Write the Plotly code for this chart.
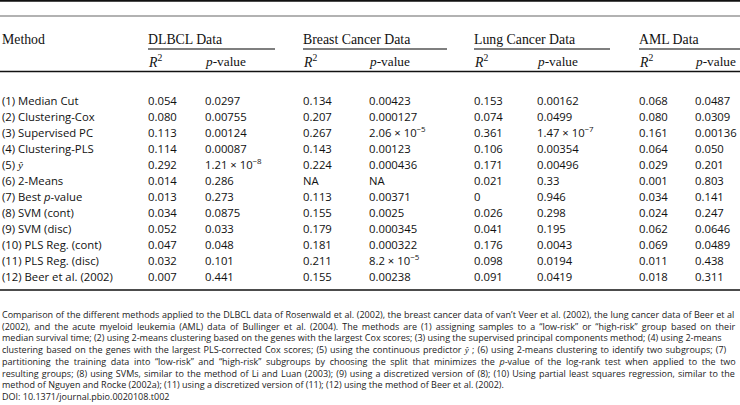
import plotly.graph_objects as go

# ---------------- data ----------------
methods = ["(1) Median Cut", "(2) Clustering-Cox", "(3) Supervised PC", "(4) Clustering-PLS",
           "(5) <span style='font-family:Liberation Serif'><i>ŷ</i></span>", "(6) 2-Means",
           "(7) Best <i>p</i>-value", "(8) SVM (cont)", "(9) SVM (disc)", "(10) PLS Reg. (cont)",
           "(11) PLS Reg. (disc)", "(12) Beer et al. (2002)"]
datasets = ["DLBCL Data", "Breast Cancer Data", "Lung Cancer Data", "AML Data"]
dlbcl_r2 = ["0.054", "0.080", "0.113", "0.114", "0.292", "0.014", "0.013", "0.034", "0.052", "0.047", "0.032", "0.007"]
dlbcl_p = ["0.0297", "0.00755", "0.00124", "0.00087", "1.21 × 10<sup>−8</sup>", "0.286", "0.273", "0.0875", "0.033", "0.048", "0.101", "0.441"]
breast_r2 = ["0.134", "0.207", "0.267", "0.143", "0.224", "NA", "0.113", "0.155", "0.179", "0.181", "0.211", "0.155"]
breast_p = ["0.00423", "0.000127", "2.06 × 10<sup>−5</sup>", "0.00123", "0.000436", "NA", "0.00371", "0.0025", "0.000345", "0.000322", "8.2 × 10<sup>−5</sup>", "0.00238"]
lung_r2 = ["0.153", "0.074", "0.361", "0.106", "0.171", "0.021", "0", "0.026", "0.041", "0.176", "0.098", "0.091"]
lung_p = ["0.00162", "0.0499", "1.47 × 10<sup>−7</sup>", "0.00354", "0.00496", "0.33", "0.946", "0.298", "0.195", "0.0043", "0.0194", "0.0419"]
aml_r2 = ["0.068", "0.080", "0.161", "0.064", "0.029", "0.001", "0.034", "0.024", "0.062", "0.069", "0.011", "0.018"]
aml_p = ["0.0487", "0.0309", "0.00136", "0.050", "0.201", "0.803", "0.141", "0.247", "0.0646", "0.0489", "0.438", "0.311"]
sub_headers = ["<i>R</i><sup>2</sup>", "<i>p</i>-value"]
caption_lines = [
    "Comparison of the different methods applied to the DLBCL data of Rosenwald et al. (2002), the breast cancer data of van’t Veer et al. (2002), the lung cancer data of Beer et al",
    "(2002), and the acute myeloid leukemia (AML) data of Bullinger et al. (2004). The methods are (1) assigning samples to a “low-risk” or “high-risk” group based on their",
    "median survival time; (2) using 2-means clustering based on the genes with the largest Cox scores; (3) using the supervised principal components method; (4) using 2-means",
    "clustering based on the genes with the largest PLS-corrected Cox scores; (5) using the continuous predictor <span style='font-family:Liberation Serif'><i>ŷ</i></span> ; (6) using 2-means clustering to identify two subgroups; (7)",
    "partitioning the training data into “low-risk” and “high-risk” subgroups by choosing the split that minimizes the <i>p</i>-value of the log-rank test when applied to the two",
    "resulting groups; (8) using SVMs, similar to the method of Li and Luan (2003); (9) using a discretized version of (8); (10) Using partial least squares regression, similar to the",
    "method of Nguyen and Rocke (2002a); (11) using a discretized version of (11); (12) using the method of Beer et al. (2002).",
    "DOI: 10.1371/journal.pbio.0020108.t002",
]

columns = [dlbcl_r2, dlbcl_p, breast_r2, breast_p, lung_r2, lung_p, aml_r2, aml_p]

# ---------------- layout geometry / style (pixels) ----------------
W, H = 740, 405
PAD = 2
label_x = 0.5
r2_x = [148, 303, 474, 639]
p_x = [205, 369, 537, 695]
line_end = [275, 447, 610, 740]
y_method = 39
y_group_line = 49
y_sub = 61
y_thick = 71.5
row_y0 = 100
row_dy = 16
y_bottom = 290
cap_top = 306
# extra word spacing (px) to imitate the justified caption lines
cap_word_spacing = [0.25, 1.75, 0.0, 0.85, 2.25, 0.8, 0.0, 0.0]

SERIF = "Liberation Serif"
SANS = "Open Sans"

fig = go.Figure()
fig.add_trace(go.Scatter(x=[0, W], y=[0, H], mode="markers", marker=dict(opacity=0),
                         hoverinfo="skip", showlegend=False))

ann = []
def add(x, y, text, font, size, color="#111", yanchor="middle"):
    ann.append(dict(x=max(x - PAD, 0.2), y=y, xref="x", yref="y", text=text, showarrow=False,
                    xanchor="left", yanchor=yanchor, align="left",
                    font=dict(family=font, size=size, color=color)))

add(label_x, y_method, "Method", SERIF, 13.8)
for gi, name in enumerate(datasets):
    add(r2_x[gi], y_method, name, SERIF, 13.8)
    add(r2_x[gi], y_sub, sub_headers[0], SERIF, 13.8)
    add(p_x[gi], y_sub, sub_headers[1], SERIF, 13.3)

for i, m in enumerate(methods):
    y = row_y0 + i * row_dy
    add(label_x, y, m, SANS, 11.3)
    for ci, col in enumerate(columns):
        x = (p_x if ci % 2 else r2_x)[ci // 2]
        add(x, y, col[i], SANS, 11.3)

cap_parts = []
for line, ws in zip(caption_lines, cap_word_spacing):
    if ws > 0:
        cap_parts.append(f"<span style='word-spacing:{ws}px'>{line}</span>")
    else:
        cap_parts.append(line)
add(label_x, cap_top, "<br>".join(cap_parts), SANS, 9.0, "#222", yanchor="top")

shapes = []
def hline(x0, x1, y, width, color):
    shapes.append(dict(type="line", xref="x", yref="y", x0=x0, x1=x1, y0=y, y1=y,
                       line=dict(color=color, width=width)))

hline(0, W, 0.8, 1.8, "#111")
hline(0, W, 16, 1.2, "#666")
for gi in range(4):
    hline(r2_x[gi], line_end[gi], y_group_line, 1.4, "#555")
hline(0, W, y_thick, 1.5, "#111")
hline(0, W, y_bottom, 1.5, "#111")

fig.update_layout(
    width=W, height=H, margin=dict(l=0, r=0, t=0, b=0),
    paper_bgcolor="white", plot_bgcolor="white",
    xaxis=dict(range=[0, W], visible=False, fixedrange=True),
    yaxis=dict(range=[H, 0], visible=False, fixedrange=True),
    annotations=ann, shapes=shapes, showlegend=False,
)
fig.write_html(
    "out.html",
    config={"displayModeBar": False},
    post_script="document.body.style.margin='0';document.body.style.padding='0';document.body.style.overflow='hidden';",
)
